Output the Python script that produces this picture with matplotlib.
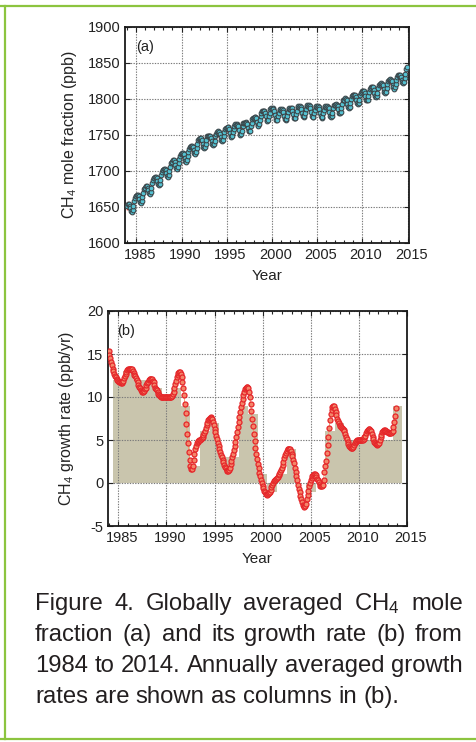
import matplotlib
matplotlib.use("Agg")
import matplotlib.pyplot as plt
from matplotlib.lines import Line2D
from matplotlib.ticker import MultipleLocator
from matplotlib.transforms import ScaledTranslation
import numpy as np

plt.rcParams['font.family'] = ['Liberation Sans', 'DejaVu Sans']
plt.rcParams['mathtext.default'] = 'regular'
plt.rcParams['axes.unicode_minus'] = False

W, H, DPI = 477, 742, 100

# ---------------- data ----------------
# Globally averaged CH4 mole fraction (ppb), monthly, one row per year (Jan..Dec)
ch4_years = list(range(1984, 2015))
ch4_monthly = [
    [1652, 1654, 1654, 1652, 1648, 1644, 1643, 1646, 1652, 1658, 1663, 1665],  # 1984
    [1665, 1667, 1667, 1665, 1661, 1657, 1656, 1658, 1664, 1670, 1675, 1677],  # 1985
    [1677, 1679, 1679, 1677, 1673, 1669, 1668, 1671, 1677, 1683, 1688, 1690],  # 1986
    [1690, 1692, 1692, 1690, 1686, 1682, 1681, 1682, 1688, 1694, 1699, 1701],  # 1987
    [1701, 1703, 1703, 1701, 1697, 1693, 1692, 1694, 1700, 1706, 1711, 1713],  # 1988
    [1713, 1715, 1715, 1713, 1708, 1704, 1703, 1705, 1711, 1717, 1721, 1723],  # 1989
    [1723, 1725, 1725, 1723, 1718, 1714, 1713, 1715, 1721, 1727, 1731, 1733],  # 1990
    [1733, 1735, 1735, 1733, 1729, 1725, 1724, 1726, 1732, 1738, 1743, 1745],  # 1991
    [1745, 1746, 1746, 1743, 1738, 1733, 1732, 1733, 1738, 1743, 1748, 1749],  # 1992
    [1748, 1749, 1749, 1746, 1742, 1737, 1736, 1737, 1742, 1748, 1752, 1754],  # 1993
    [1753, 1755, 1754, 1752, 1747, 1743, 1742, 1743, 1749, 1754, 1759, 1760],  # 1994
    [1760, 1761, 1761, 1758, 1753, 1749, 1747, 1748, 1754, 1759, 1763, 1765],  # 1995
    [1764, 1765, 1764, 1762, 1757, 1752, 1750, 1751, 1756, 1762, 1766, 1767],  # 1996
    [1766, 1768, 1767, 1765, 1760, 1756, 1755, 1756, 1762, 1767, 1772, 1773],  # 1997
    [1773, 1775, 1775, 1773, 1768, 1764, 1763, 1765, 1771, 1777, 1781, 1783],  # 1998
    [1783, 1784, 1784, 1781, 1776, 1771, 1770, 1771, 1776, 1781, 1786, 1787],  # 1999
    [1786, 1787, 1786, 1783, 1778, 1773, 1771, 1771, 1776, 1781, 1785, 1786],  # 2000
    [1785, 1786, 1785, 1782, 1777, 1772, 1771, 1772, 1777, 1782, 1786, 1787],  # 2001
    [1786, 1787, 1787, 1784, 1779, 1774, 1773, 1774, 1779, 1784, 1789, 1790],  # 2002
    [1789, 1790, 1789, 1786, 1781, 1776, 1775, 1776, 1781, 1786, 1790, 1791],  # 2003
    [1790, 1791, 1790, 1787, 1782, 1777, 1775, 1775, 1780, 1785, 1789, 1790],  # 2004
    [1789, 1790, 1789, 1786, 1781, 1776, 1774, 1775, 1780, 1785, 1789, 1790],  # 2005
    [1789, 1790, 1789, 1787, 1782, 1777, 1775, 1776, 1781, 1787, 1791, 1792],  # 2006
    [1791, 1793, 1792, 1790, 1786, 1781, 1780, 1782, 1787, 1793, 1798, 1799],  # 2007
    [1799, 1801, 1800, 1798, 1793, 1789, 1787, 1789, 1794, 1800, 1804, 1806],  # 2008
    [1805, 1806, 1806, 1803, 1799, 1794, 1793, 1794, 1799, 1805, 1809, 1811],  # 2009
    [1810, 1811, 1811, 1808, 1804, 1799, 1798, 1799, 1804, 1810, 1814, 1816],  # 2010
    [1815, 1816, 1816, 1813, 1809, 1804, 1803, 1804, 1809, 1815, 1819, 1821],  # 2011
    [1820, 1822, 1821, 1819, 1814, 1810, 1808, 1810, 1815, 1821, 1825, 1827],  # 2012
    [1826, 1828, 1827, 1825, 1820, 1816, 1814, 1816, 1821, 1827, 1831, 1833],  # 2013
    [1832, 1834, 1834, 1831, 1827, 1823, 1822, 1823, 1829, 1835, 1842, 1844],  # 2014
]

# Deseasonalized trend (ppb) at the start of each year
trend_years = list(range(1984, 2016))
trend_ppb = [1646, 1659, 1671, 1684, 1695, 1707, 1717, 1727, 1739, 1742, 1747,
             1754, 1758, 1760, 1767, 1777, 1780, 1779, 1780, 1783, 1784, 1783,
             1783, 1785, 1793, 1799, 1804, 1809, 1814, 1820, 1826, 1835]

# Growth rate (ppb/yr), monthly, one row per year (Jan..Dec)
rate_years = list(range(1984, 2014))
rate_monthly = [
    [15.3, 14.9, 14.5, 14.1, 13.7, 13.3, 13.0, 12.7, 12.5, 12.3, 12.1, 12.0],  # 1984
    [11.9, 11.8, 11.7, 11.6, 11.6, 11.7, 11.9, 12.2, 12.5, 12.7, 12.9, 13.1],  # 1985
    [13.2, 13.3, 13.3, 13.3, 13.3, 13.2, 13.0, 12.8, 12.6, 12.4, 12.2, 12.0],  # 1986
    [11.7, 11.4, 11.2, 11.0, 10.8, 10.7, 10.6, 10.6, 10.7, 10.9, 11.1, 11.4],  # 1987
    [11.6, 11.8, 12.0, 12.1, 12.15, 12.15, 12.1, 11.9, 11.7, 11.4, 11.1, 10.9],  # 1988
    [10.8, 10.6, 10.4, 10.2, 10.1, 10.0, 10.0, 10.0, 10.0, 10.0, 10.0, 10.0],  # 1989
    [10.0, 10.0, 10.0, 10.0, 10.0, 10.0, 10.0, 10.1, 10.3, 10.6, 11.0, 11.5],  # 1990
    [11.9, 12.3, 12.6, 12.8, 12.9, 12.9, 12.7, 12.3, 11.7, 11.0, 10.2, 9.2],  # 1991
    [8.1, 6.9, 5.7, 4.6, 3.6, 2.7, 2.0, 1.6, 1.6, 2.0, 2.7, 3.4],  # 1992
    [3.9, 4.3, 4.6, 4.8, 4.9, 5.0, 5.0, 5.1, 5.2, 5.4, 5.6, 5.8],  # 1993
    [6.1, 6.4, 6.7, 7.0, 7.3, 7.5, 7.6, 7.7, 7.6, 7.4, 7.1, 6.7],  # 1994
    [6.3, 5.9, 5.5, 5.1, 4.7, 4.3, 4.0, 3.6, 3.3, 3.0, 2.7, 2.4],  # 1995
    [2.1, 1.9, 1.7, 1.5, 1.4, 1.35, 1.5, 1.8, 2.2, 2.6, 3.0, 3.4],  # 1996
    [3.8, 4.3, 4.8, 5.3, 5.9, 6.5, 7.1, 7.7, 8.3, 8.8, 9.3, 9.8],  # 1997
    [10.2, 10.6, 10.9, 11.1, 11.2, 11.2, 11.0, 10.6, 10.0, 9.2, 8.4, 7.5],  # 1998
    [6.6, 5.7, 4.9, 4.1, 3.4, 2.8, 2.2, 1.7, 1.2, 0.8, 0.4, 0.0],  # 1999
    [-0.3, -0.6, -0.9, -1.1, -1.25, -1.3, -1.35, -1.3, -1.2, -1.0, -0.8, -0.5],  # 2000
    [-0.2, 0.0, 0.2, 0.3, 0.4, 0.5, 0.6, 0.7, 0.9, 1.1, 1.3, 1.5],  # 2001
    [1.8, 2.1, 2.5, 2.9, 3.2, 3.5, 3.7, 3.9, 4.0, 4.0, 3.9, 3.7],  # 2002
    [3.4, 3.1, 2.7, 2.3, 1.8, 1.3, 0.8, 0.3, -0.2, -0.7, -1.1, -1.5],  # 2003
    [-1.9, -2.2, -2.5, -2.7, -2.8, -2.7, -2.4, -1.9, -1.4, -0.9, -0.4, 0.0],  # 2004
    [0.3, 0.6, 0.8, 0.9, 1.0, 1.0, 0.9, 0.7, 0.5, 0.3, 0.1, -0.1],  # 2005
    [-0.3, -0.4, -0.4, -0.2, 0.4, 1.3, 2.0, 2.6, 3.5, 4.4, 5.3, 6.4],  # 2006
    [7.3, 8.0, 8.5, 8.8, 9.0, 8.9, 8.6, 8.2, 7.9, 7.5, 7.2, 7.0],  # 2007
    [6.8, 6.6, 6.5, 6.4, 6.3, 6.2, 6.0, 5.7, 5.4, 5.1, 4.8, 4.5],  # 2008
    [4.3, 4.2, 4.1, 4.05, 4.1, 4.2, 4.4, 4.6, 4.8, 4.9, 5.0, 5.0],  # 2009
    [5.0, 5.0, 5.0, 5.0, 5.0, 5.0, 5.1, 5.3, 5.5, 5.8, 6.0, 6.2],  # 2010
    [6.3, 6.3, 6.2, 6.0, 5.7, 5.4, 5.1, 4.8, 4.6, 4.5, 4.45, 4.5],  # 2011
    [4.5, 4.7, 5.0, 5.3, 5.6, 5.9, 6.1, 6.2, 6.2, 6.1, 6.0, 5.9],  # 2012
    [5.9, 5.8, 5.8, 5.8, 5.8, 5.9, 6.1, 6.5, 7.1, 7.8, 8.7],  # 2013
]

# Annually averaged growth rate (ppb/yr)
annual_years = list(range(1985, 2015))
annual_rate = [12, 13, 12, 12, 11, 10, 11, 9, 2, 6, 7, 3, 3, 9, 8,
               1, -1, 1, 4, 0, -1, 0, 6, 7, 5, 5, 5, 5, 5, 9]

top_yticks = [1600, 1650, 1700, 1750, 1800, 1850, 1900]
bot_yticks = [-5, 0, 5, 10, 15, 20]
xticks = [1985, 1990, 1995, 2000, 2005, 2010, 2015]

caption_lines = [
    "Figure 4. Globally averaged CH$_4$ mole",
    "fraction (a) and its growth rate (b) from",
    "1984 to 2014. Annually averaged growth",
    "rates are shown as columns in (b).",
]

# ---------------- helpers ----------------
def monthly_series(years, rows):
    t, v = [], []
    for y, row in zip(years, rows):
        for m, val in enumerate(row):
            t.append(y + m / 12.0)
            v.append(val)
    return np.array(t), np.array(v)


def style_axes(ax, fig):
    ax.set_xticks(xticks)
    ax.xaxis.set_minor_locator(MultipleLocator(1))
    ax.tick_params(which='both', direction='in', top=True, right=True,
                   labelsize=10.5, colors='#222222', width=0.8)
    ax.tick_params(which='major', length=3.5, pad=3.5)
    ax.tick_params(which='minor', length=2.2)
    ax.tick_params(axis='y', which='minor', left=False, right=False)
    ax.grid(True, which='major', linestyle=(0, (1.2, 1.2)), color='#7a7a7a',
            linewidth=0.8)
    for s in ax.spines.values():
        s.set_linewidth(1.3)
        s.set_color('#1a1a1a')
    shift = ScaledTranslation(3.5 / DPI, 0, fig.dpi_scale_trans)
    for lab in ax.get_xticklabels():
        lab.set_transform(lab.get_transform() + shift)


fig = plt.figure(figsize=(W / DPI, H / DPI), dpi=DPI)
fig.patch.set_facecolor('white')

# ---------------- panel (a) ----------------
ax1 = fig.add_axes([125 / W, 1 - 243 / H, 284 / W, 216 / H])
t1, v1 = monthly_series(ch4_years, ch4_monthly)
ax1.plot(trend_years, trend_ppb, color='#e8322a', linewidth=0.8, zorder=2.6)
ax1.plot(t1, v1, linestyle='none', marker='o', markersize=3.4,
         markerfacecolor='#55c3d3', markeredgecolor='#3b4448',
         markeredgewidth=0.75, zorder=3)
ax1.set_xlim(1983.75, 2015.15)
ax1.set_ylim(1600, 1900)
ax1.set_yticks(top_yticks)
style_axes(ax1, fig)
ax1.set_xlabel('Year', fontsize=11, labelpad=5, color='#222222')
ax1.set_ylabel('CH$_4$ mole fraction (ppb)', fontsize=11.5, labelpad=6,
               color='#222222')
ax1.text(0.04, 0.94, '(a)', transform=ax1.transAxes, fontsize=10.5,
         va='top', ha='left', color='#222222')

# ---------------- panel (b) ----------------
ax2 = fig.add_axes([108 / W, 1 - 526 / H, 299 / W, 215 / H])
ax2.bar(annual_years, annual_rate, width=1.0, align='center',
        color='#c9c5ad', linewidth=0, zorder=1)
t2, v2 = monthly_series(rate_years, rate_monthly)
ax2.plot(t2, v2, color='#f29a6a', linewidth=0.6, zorder=3,
         marker='o', markersize=3.6, markerfacecolor='#f3866a',
         markeredgecolor='#e5262a', markeredgewidth=0.9)
ax2.set_xlim(1983.93, 2015.0)
ax2.set_ylim(-5, 20)
ax2.set_yticks(bot_yticks)
style_axes(ax2, fig)
ax2.set_xlabel('Year', fontsize=11, labelpad=5, color='#222222')
ax2.set_ylabel('CH$_4$ growth rate (ppb/yr)', fontsize=11.5, labelpad=8,
               color='#222222')
ax2.text(0.03, 0.94, '(b)', transform=ax2.transAxes, fontsize=10.5,
         va='top', ha='left', color='#222222')

# ---------------- frame ----------------
green = '#8cc43f'
fig.add_artist(Line2D([0, 1], [1 - 6 / H, 1 - 6 / H], color=green,
                      linewidth=1.6, transform=fig.transFigure))
fig.add_artist(Line2D([5 / W, 5 / W], [1 - 6 / H, 1 - 739 / H], color=green,
                      linewidth=1.6, transform=fig.transFigure))
fig.add_artist(Line2D([0, 1], [1 - 739 / H, 1 - 739 / H], color=green,
                      linewidth=1.6, transform=fig.transFigure))

# ---------------- caption (justified) ----------------
fig.canvas.draw()
renderer = fig.canvas.get_renderer()
cap_left, cap_right = 35, 463
baselines = [610, 641, 672, 703]
cap_family = ['Liberation Sans', 'DejaVu Sans']


def text_width(s, size):
    t = fig.text(0, 0, s, fontsize=size, family=cap_family)
    w = t.get_window_extent(renderer).width
    t.remove()
    return w


# the densest line sets the size: it fills the column with plain spaces
cap_size = 16 * (cap_right - cap_left) / text_width(caption_lines[2], 16)
space_w = text_width('x x', cap_size) - text_width('xx', cap_size)
for i, line in enumerate(caption_lines):
    words = line.split(' ')
    items = [fig.text(0, 0, w, fontsize=cap_size, family=cap_family,
                      color='#231f20', ha='left', va='baseline') for w in words]
    widths = [it.get_window_extent(renderer).width for it in items]
    if i < len(caption_lines) - 1:
        gap = (cap_right - cap_left - sum(widths)) / (len(words) - 1)
    else:
        gap = space_w
    x = cap_left
    for it, w in zip(items, widths):
        it.set_position((x / W, 1 - baselines[i] / H))
        x += w + gap

fig.savefig('out.png', dpi=DPI, facecolor='white')
